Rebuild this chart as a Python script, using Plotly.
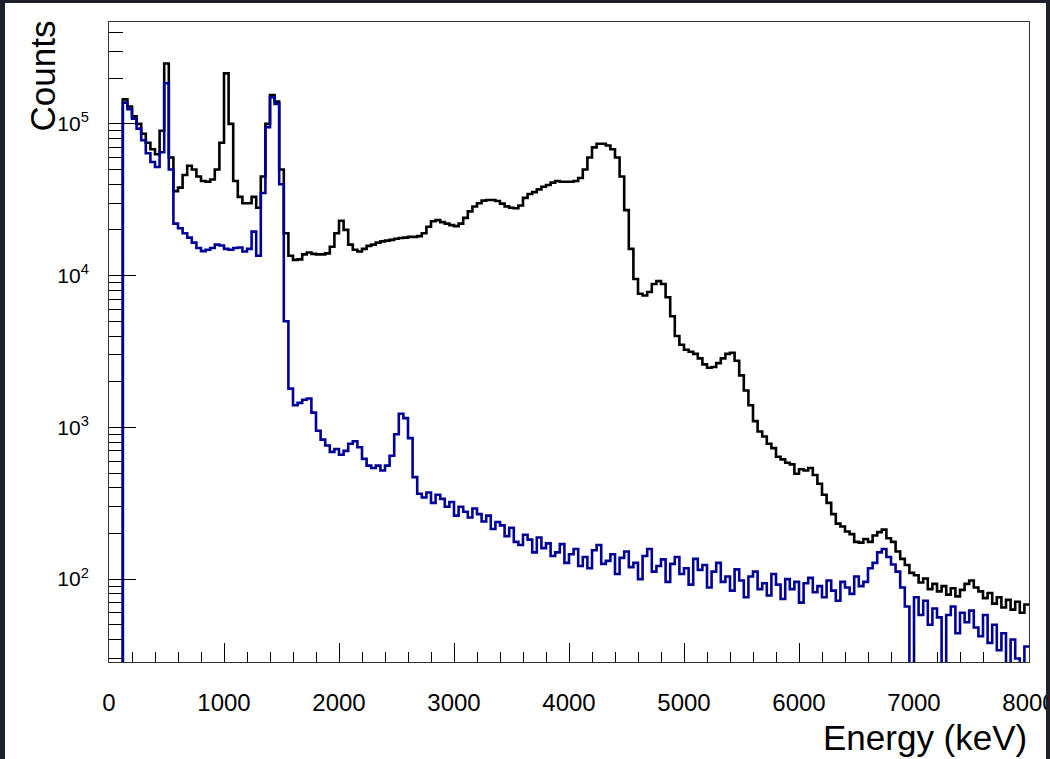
import numpy as np
import plotly.graph_objects as go

# ---- data (40 keV bins, 0-8000 keV) ----
BIN_WIDTH = 40
E_MAX = 8000

counts_black = [
    1, 1, 1, 1.45e5, 1.3e5, 1.12e5, 1.0e5, 8.6e4, 7.5e4, 6.8e4,
    6.3e4, 9.0e4, 2.5e5, 6.0e4, 3.6e4, 3.8e4, 4.6e4, 5.3e4, 5.0e4, 4.5e4,
    4.2e4, 4.15e4, 4.3e4, 5.0e4, 7.5e4, 2.15e5, 1.0e5, 4.2e4, 3.3e4, 3.0e4,
    3.0e4, 3.3e4, 2.8e4, 4.5e4, 1.0e5, 1.55e5, 1.4e5, 5.0e4, 1.9e4, 1.35e4,
    1.27e4, 1.28e4, 1.38e4, 1.42e4, 1.39e4, 1.38e4, 1.38e4, 1.4e4, 1.55e4, 1.9e4,
    2.3e4, 2.0e4, 1.6e4, 1.48e4, 1.44e4, 1.5e4, 1.57e4, 1.6e4, 1.65e4, 1.68e4,
    1.7e4, 1.72e4, 1.75e4, 1.77e4, 1.78e4, 1.8e4, 1.8e4, 1.82e4, 1.9e4, 2.1e4,
    2.28e4, 2.32e4, 2.25e4, 2.2e4, 2.15e4, 2.12e4, 2.2e4, 2.4e4, 2.65e4, 2.85e4,
    3.0e4, 3.12e4, 3.15e4, 3.15e4, 3.1e4, 2.98e4, 2.86e4, 2.8e4, 2.78e4, 2.9e4,
    3.25e4, 3.45e4, 3.55e4, 3.7e4, 3.85e4, 3.95e4, 4.1e4, 4.2e4, 4.15e4, 4.15e4,
    4.15e4, 4.2e4, 4.4e4, 5.0e4, 6.0e4, 7.0e4, 7.4e4, 7.4e4, 7.2e4, 6.8e4,
    6.0e4, 4.5e4, 2.7e4, 1.5e4, 9.5e3, 7.6e3, 7.4e3, 7.8e3, 8.8e3, 9.2e3,
    8.8e3, 7.2e3, 5.4e3, 4.0e3, 3.5e3, 3.25e3, 3.15e3, 3.05e3, 2.85e3, 2.6e3,
    2.47e3, 2.5e3, 2.65e3, 2.85e3, 3.05e3, 3.1e3, 2.75e3, 2.2e3, 1.75e3, 1.4e3,
    1100, 940, 870, 780, 730, 640, 615, 585, 570, 495,
    530, 520, 540, 485, 425, 360, 318, 268, 232, 222,
    206, 198, 176, 174, 184, 176, 194, 204, 212, 186,
    176, 152, 136, 124, 110, 106, 95, 101, 86, 93,
    83, 90, 79, 87, 77, 85, 93, 98, 88, 83,
    75, 81, 69, 76, 65, 73, 63, 71, 60, 68,
]

counts_blue = [
    1, 1, 1, 1.38e5, 1.25e5, 1.08e5, 9.3e4, 7.8e4, 6.4e4, 5.6e4,
    5.2e4, 6.5e4, 1.85e5, 5.0e4, 2.2e4, 2.05e4, 1.9e4, 1.78e4, 1.65e4, 1.52e4,
    1.45e4, 1.48e4, 1.52e4, 1.6e4, 1.58e4, 1.5e4, 1.48e4, 1.52e4, 1.53e4, 1.44e4,
    1.5e4, 1.95e4, 1.35e4, 3.5e4, 9.5e4, 1.5e5, 1.35e5, 4.0e4, 5.0e3, 1.8e3,
    1400, 1450, 1520, 1550, 1250, 950, 830, 760, 690, 720,
    660, 700, 780, 810, 740, 620, 560, 540, 560, 520,
    560, 650, 900, 1230, 1150, 850, 470, 365, 345, 372,
    318, 360, 338, 300, 322, 262, 300, 278, 255, 292,
    268, 240, 262, 214, 238, 226, 192, 218, 176, 168,
    196, 182, 150, 188, 160, 172, 142, 150, 170, 128,
    146, 158, 122, 140, 118, 155, 168, 126, 132, 146,
    108, 138, 152, 120, 128, 100, 142, 158, 112, 122,
    135, 96, 126, 140, 108, 118, 92, 136, 115, 124,
    88, 112, 128, 96, 104, 84, 116, 98, 76, 104,
    112, 86, 94, 78, 108, 92, 74, 100, 86, 96,
    70, 94, 102, 82, 90, 76, 98, 84, 72, 96,
    88, 80, 104, 90, 96, 118, 128, 150, 158, 140,
    125, 112, 88, 66, 22, 76, 58, 72, 50, 64,
    56, 24, 58, 66, 44, 60, 52, 62, 48, 42,
    58, 38, 50, 34, 44, 22, 40, 30, 24, 36,
]

y_major = [1e2, 1e3, 1e4, 1e5]
y_major_text = ["10<sup>2</sup>", "10<sup>3</sup>", "10<sup>4</sup>", "10<sup>5</sup>"]
y_minor = [m * d for d in (10, 100, 1000, 10000, 100000) for m in range(2, 10) if m * d < 4.7e5]

edges = np.arange(0, E_MAX + BIN_WIDTH, BIN_WIDTH)

W, H = 1050, 759
L, R, T, B = 109, 21, 22, 97
PW, PH = W - L - R, H - T - B
DARK = "#1c202a"


def px(xp):
    return (xp - L) / PW


def py(yp):
    return (H - B - yp) / PH


fig = go.Figure()
fig.add_trace(go.Scatter(x=edges, y=list(counts_black) + [counts_black[-1]],
                         mode="lines", line=dict(color="#000000", width=2.6, shape="hv"),
                         showlegend=False, hoverinfo="skip"))
fig.add_trace(go.Scatter(x=edges, y=list(counts_blue) + [counts_blue[-1]],
                         mode="lines", line=dict(color="#000099", width=2.6, shape="hv"),
                         showlegend=False, hoverinfo="skip"))

FONT = "Liberation Sans, Arial, sans-serif"

fig.update_layout(
    template="none",
    width=W, height=H,
    margin=dict(l=L, r=R, t=T, b=B, pad=0, autoexpand=False),
    paper_bgcolor=DARK,
    plot_bgcolor="white",
    font=dict(family=FONT, color="black"),
    xaxis=dict(
        range=[0, E_MAX], showgrid=False, zeroline=False, automargin=False,
        showline=True, linecolor="#333333", linewidth=1, mirror=True,
        ticks="inside", ticklen=19, tickwidth=1, tickcolor="black",
        tickmode="linear", tick0=0, dtick=1000,
        tickfont=dict(size=24, family=FONT, color="black"),
        ticklabelstandoff=19, ticklabeloverflow="allow",
        minor=dict(ticks="inside", ticklen=10, tickwidth=1, tickcolor="black",
                   tickmode="linear", tick0=0, dtick=200, showgrid=False),
    ),
    yaxis=dict(
        type="log", range=[1.454, 5.671], showgrid=False, zeroline=False, automargin=False,
        showline=True, linecolor="#333333", linewidth=1, mirror=True,
        ticks="inside", ticklen=27, tickwidth=1, tickcolor="black",
        tickmode="array", tickvals=y_major, ticktext=y_major_text,
        tickfont=dict(size=21, family=FONT, color="black"),
        ticklabelstandoff=15,
        minor=dict(ticks="inside", ticklen=14, tickwidth=1, tickcolor="black",
                   tickmode="array", tickvals=y_minor, showgrid=False),
    ),
    shapes=[
        dict(type="rect", xref="paper", yref="paper", layer="below",
             x0=px(5), x1=px(1046), y0=py(H + 5), y1=py(3),
             fillcolor="white", line=dict(width=0)),
        dict(type="rect", xref="paper", yref="paper", layer="above",
             x0=px(1046), x1=px(W + 5), y0=py(H + 5), y1=py(-5),
             fillcolor=DARK, line=dict(width=0)),
    ],
    annotations=[
        dict(text="Counts", xref="paper", yref="paper", x=px(42), y=py(19),
             xanchor="center", yanchor="top", textangle=-90, showarrow=False,
             font=dict(size=35, family=FONT, color="black")),
        dict(text="Energy (keV)", xref="paper", yref="paper", x=px(1029), y=py(737),
             xanchor="right", yanchor="middle", showarrow=False,
             font=dict(size=35, family=FONT, color="black")),
    ],
)

fig.write_html(
    "out.html",
    config={"displayModeBar": False},
    post_script="document.body.style.margin='0px';document.body.style.background='" + DARK + "';",
)
